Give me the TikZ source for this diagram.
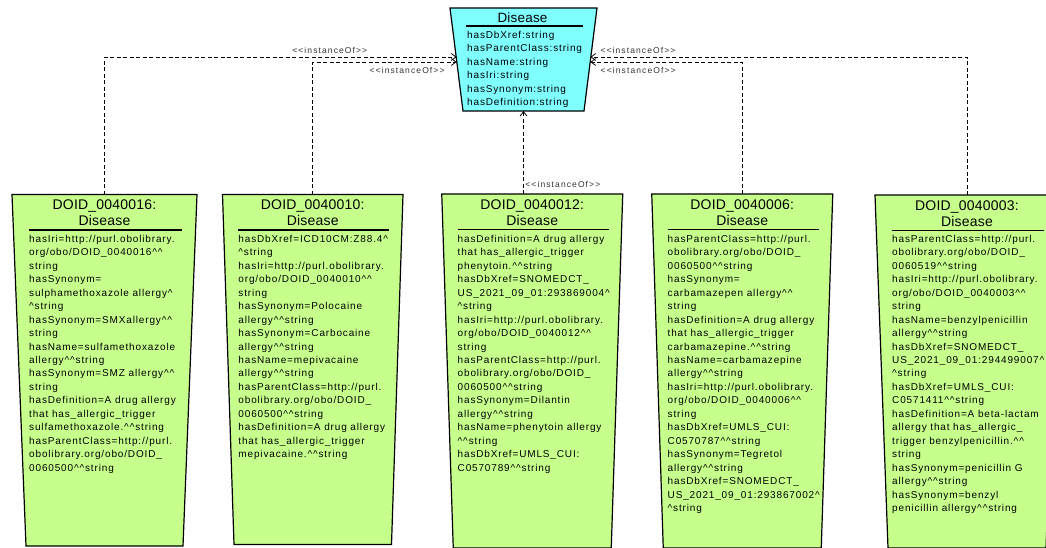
\documentclass[tikz,border=0pt]{standalone}
\usepackage{fontspec}
\setmainfont{Liberation Sans}
\newfontfamily\attrfont[Ligatures=TeXOff,LetterSpace=8.5]{Liberation Sans}
\newfontfamily\titlefont[Ligatures=TeXOff,LetterSpace=1.5]{Liberation Sans}
\newfontfamily\lblfont[Ligatures=TeXOff,LetterSpace=13]{Liberation Sans}
\usetikzlibrary{arrows.meta}
\newcommand\crt{\textasciicircum}
\definecolor{classcyan}{RGB}{128,255,255}
\definecolor{instgreen}{RGB}{199,255,140}
% trapezoid outline around a frame node: #1 node, #2 half inset (pt), #3 fill
\newcommand\trapbox[3]{%
  \filldraw[trap, fill=#3] ([xshift=-#2pt]#1.north west) -- ([xshift=#2pt]#1.north east)
    -- ([xshift=-#2pt]#1.south east) -- ([xshift=#2pt]#1.south west) -- cycle;}
\begin{document}
\begin{tikzpicture}[x=1pt,y=-1pt,
  frame/.style={draw=none, fill=none, inner sep=0pt, outer sep=0pt},
  trap/.style={draw=black, line width=1.2pt, line join=miter},
  rule/.style={draw=black, line width=1.3pt},
  ttl/.style={anchor=north, inner sep=0pt, align=center,
    font=\titlefont\fontsize{14}{16}\selectfont},
  attrs/.style={anchor=north west, inner sep=0pt, align=left,
    font=\attrfont\fontsize{10}{13.45}\selectfont},
  dep/.style={draw=black, line width=0.8pt, dash pattern=on 4pt off 2.5pt,
    -{Straight Barb[length=4.5pt,width=7pt]}},
  stereo/.style={font=\lblfont\fontsize{8.5}{10}\selectfont, text=black!80, inner sep=0pt},
]
\useasboundingbox (0,0) rectangle (1046,547);

% ---- class Disease ----
\node[frame, minimum width=134pt, minimum height=103pt] (disease) at (523.5,59.5) {};
\trapbox{disease}{6.5}{classcyan}
\node[ttl, font=\titlefont\fontsize{13.5}{16}\selectfont] at ([xshift=-1pt,yshift=-5pt]disease.north) {Disease};
\draw[rule] ([xshift=9.5pt,yshift=-18pt]disease.north west) -- ([xshift=-7.5pt,yshift=-18pt]disease.north east);
\node[attrs] at ([xshift=10.5pt,yshift=-23pt]disease.north west)
  {hasDbXref:string\\hasParentClass:string\\hasName:string\\hasIri:string\\hasSynonym:string\\hasDefinition:string};

% ---- instances ----
\node[frame, minimum width=171pt, minimum height=351.5pt] (d16) at (104.5,370.25) {};
\node[frame, minimum width=169pt, minimum height=350pt] (d10) at (312.75,369.5) {};
\node[frame, minimum width=169.5pt, minimum height=354pt] (d12) at (532.25,371) {};
\node[frame, minimum width=169.5pt, minimum height=354pt] (d06) at (742.25,371) {};
\node[frame, minimum width=171pt, minimum height=353pt] (d03) at (967,371.5) {};

\trapbox{d16}{7}{instgreen}
\trapbox{d10}{5.75}{instgreen}
\trapbox{d12}{5.75}{instgreen}
\trapbox{d06}{5.75}{instgreen}
\trapbox{d03}{6.5}{instgreen}

\foreach \b/\t in {d16/DOID\_0040016, d10/DOID\_0040010, d12/DOID\_0040012, d06/DOID\_0040006, d03/DOID\_0040003}{
  \node[ttl] at ([yshift=-5.5pt]\b.north) {\t:\\Disease};
  \draw[rule] ([xshift=10pt,yshift=-35.5pt]\b.north west) -- ([xshift=-8.5pt,yshift=-35.5pt]\b.north east);
}

\node[attrs] at ([xshift=10pt,yshift=-40.5pt]d16.north west) {%
hasIri=http://purl.obolibrary.\\
org/obo/DOID\_0040016\crt\crt\\
string\\
hasSynonym=\\
sulphamethoxazole allergy\crt\\
\crt string\\
hasSynonym=SMXallergy\crt\crt\\
string\\
hasName=sulfamethoxazole\\
allergy\crt\crt string\\
hasSynonym=SMZ allergy\crt\crt\\
string\\
hasDefinition=A drug allergy\\
that has\_allergic\_trigger\\
sulfamethoxazole.\crt\crt string\\
hasParentClass=http://purl.\\
obolibrary.org/obo/DOID\_\\
0060500\crt\crt string};

\node[attrs] at ([xshift=10pt,yshift=-40.5pt]d10.north west) {%
hasDbXref=ICD10CM:Z88.4\crt\\
\crt string\\
hasIri=http://purl.obolibrary.\\
org/obo/DOID\_0040010\crt\crt\\
string\\
hasSynonym=Polocaine\\
allergy\crt\crt string\\
hasSynonym=Carbocaine\\
allergy\crt\crt string\\
hasName=mepivacaine\\
allergy\crt\crt string\\
hasParentClass=http://purl.\\
obolibrary.org/obo/DOID\_\\
0060500\crt\crt string\\
hasDefinition=A drug allergy\\
that has\_allergic\_trigger\\
mepivacaine.\crt\crt string};

\node[attrs] at ([xshift=10pt,yshift=-41pt]d12.north west) {%
hasDefinition=A drug allergy\\
that has\_allergic\_trigger\\
phenytoin.\crt\crt string\\
hasDbXref=SNOMEDCT\_\\
US\_2021\_09\_01:293869004\crt\\
\crt string\\
hasIri=http://purl.obolibrary.\\
org/obo/DOID\_0040012\crt\crt\\
string\\
hasParentClass=http://purl.\\
obolibrary.org/obo/DOID\_\\
0060500\crt\crt string\\
hasSynonym=Dilantin\\
allergy\crt\crt string\\
hasName=phenytoin allergy\\
\crt\crt string\\
hasDbXref=UMLS\_CUI:\\
C0570789\crt\crt string};

\node[attrs] at ([xshift=10pt,yshift=-41pt]d06.north west) {%
hasParentClass=http://purl.\\
obolibrary.org/obo/DOID\_\\
0060500\crt\crt string\\
hasSynonym=\\
carbamazepen allergy\crt\crt\\
string\\
hasDefinition=A drug allergy\\
that has\_allergic\_trigger\\
carbamazepine.\crt\crt string\\
hasName=carbamazepine\\
allergy\crt\crt string\\
hasIri=http://purl.obolibrary.\\
org/obo/DOID\_0040006\crt\crt\\
string\\
hasDbXref=UMLS\_CUI:\\
C0570787\crt\crt string\\
hasSynonym=Tegretol\\
allergy\crt\crt string\\
hasDbXref=SNOMEDCT\_\\
US\_2021\_09\_01:293867002\crt\\
\crt string};

\node[attrs] at ([xshift=10.5pt,yshift=-40pt]d03.north west) {%
hasParentClass=http://purl.\\
obolibrary.org/obo/DOID\_\\
0060519\crt\crt string\\
hasIri=http://purl.obolibrary.\\
org/obo/DOID\_0040003\crt\crt\\
string\\
hasName=benzylpenicillin\\
allergy\crt\crt string\\
hasDbXref=SNOMEDCT\_\\
US\_2021\_09\_01:294499007\crt\\
\crt string\\
hasDbXref=UMLS\_CUI:\\
C0571411\crt\crt string\\
hasDefinition=A beta-lactam\\
allergy that has\_allergic\_\\
trigger benzylpenicillin.\crt\crt\\
string\\
hasSynonym=penicillin G\\
allergy\crt\crt string\\
hasSynonym=benzyl\\
penicillin allergy\crt\crt string};

% ---- instanceOf dependencies ----
\draw[dep] (d16.north) |- node[stereo, above=3pt, pos=0.82] {<<instanceOf>>} ([yshift=2.5pt]disease.west);
\draw[dep] (d10.north) |- node[stereo, below=5pt, pos=0.828] {<<instanceOf>>} ([yshift=-2.5pt]disease.west);
\draw[dep] (d06.north) |- node[stereo, below=5pt, pos=0.843] {<<instanceOf>>} ([yshift=-2.5pt]disease.east);
\draw[dep] (d03.north) |- node[stereo, above=3pt, pos=0.937] {<<instanceOf>>} ([yshift=2.5pt]disease.east);
\draw[dep] (disease.south |- d12.north) -- node[stereo, right=1.5pt, pos=0.12] {<<instanceOf>>} (disease.south);
\end{tikzpicture}
\end{document}
